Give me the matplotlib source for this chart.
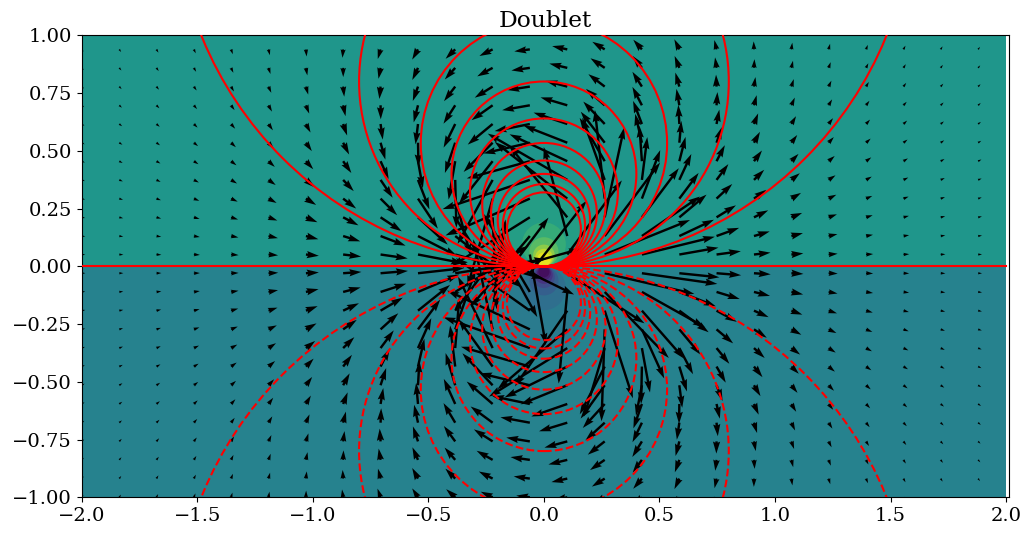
import matplotlib
matplotlib.use('Agg')
import matplotlib.pyplot as plt
from matplotlib.patches import Circle

plt.rcParams['font.family'] = 'DejaVu Serif'
plt.rcParams['font.size'] = 14

# arrow tails
x_grid = [-2.0, -1.838, -1.677, -1.515, -1.354, -1.192, -1.03, -0.869, -0.707, -0.545, -0.384, -0.222, -0.061,
          0.101, 0.263, 0.424, 0.586, 0.747, 0.909, 1.071, 1.232, 1.394, 1.556, 1.717, 1.879]
y_grid = [-1.0, -0.919, -0.838, -0.758, -0.677, -0.596, -0.515, -0.434, -0.354, -0.273, -0.192, -0.111, -0.03,
          0.051, 0.131, 0.212, 0.293, 0.374, 0.455, 0.535, 0.616, 0.697, 0.778, 0.859, 0.939]

# arrow lengths in pixels, one inner list per column of x_grid
U = [
    [1.7,1.9,2.1,2.3,2.5,2.7,2.8,3.0,3.1,3.3,3.4,3.4,3.5,3.4,3.4,3.3,3.2,3.1,3.0,2.8,2.6,2.4,2.2,2.0,1.8],
    [1.7,2.0,2.2,2.5,2.7,3.0,3.2,3.5,3.7,3.8,4.0,4.0,4.1,4.1,4.0,3.9,3.8,3.6,3.4,3.2,2.9,2.7,2.4,2.2,1.9],
    [1.7,2.0,2.4,2.7,3.0,3.4,3.7,4.0,4.3,4.5,4.7,4.9,4.9,4.9,4.8,4.7,4.5,4.2,4.0,3.6,3.3,3.0,2.6,2.3,2.0],
    [1.6,2.0,2.5,2.9,3.3,3.8,4.3,4.7,5.1,5.5,5.7,5.9,6.0,6.0,5.9,5.7,5.4,5.0,4.6,4.2,3.7,3.2,2.8,2.3,1.9],
    [1.4,1.9,2.4,3.0,3.6,4.3,4.9,5.6,6.2,6.7,7.1,7.4,7.5,7.5,7.3,7.0,6.6,6.0,5.4,4.8,4.1,3.5,2.9,2.3,1.8],
    [1.0,1.6,2.2,2.9,3.8,4.7,5.6,6.6,7.5,8.3,9.0,9.5,9.7,9.6,9.4,8.8,8.1,7.2,6.3,5.4,4.4,3.5,2.8,2.0,1.4],
    [.2,.8,1.6,2.5,3.6,4.9,6.2,7.7,9.2,10.6,11.7,12.6,12.9,12.9,12.4,11.5,10.2,8.8,7.3,5.9,4.6,3.3,2.3,1.4,.7],
    [-1.1,-.5,.4,1.4,2.8,4.5,6.5,8.8,11.2,13.6,15.8,17.5,18.2,18.0,17.1,15.3,13.0,10.6,8.2,6.0,4.0,2.4,1.1,.1,-.7],
    [-3.1,-2.6,-1.9,-.9,.6,2.7,5.6,9.1,13.2,17.7,22.2,25.7,27.4,27.1,25.0,21.2,16.6,12.1,8.1,4.8,2.2,.2,-1.2,-2.1,-2.8],
    [-5.8,-5.8,-5.6,-5.1,-3.9,-1.9,1.4,6.4,13.3,22.2,32.0,41.2,46.0,45.0,39.2,29.7,19.8,11.4,4.9,.5,-2.5,-4.3,-5.2,-5.7,-5.8],
    [-9.0,-9.8,-10.6,-11.3,-11.7,-11.4,-9.6,-5.1,4.1,20.2,44.8,73.6,90.8,88.3,66.7,38.1,15.5,1.2,-6.6,-10.3,-11.6,-11.7,-11.2,-10.4,-9.6],
    [-11.9,-13.8,-16.0,-18.7,-22.0,-25.9,-30.2,-34.2,-34.6,-19.3,12.9,55.8,88.3,81.4,44.6,4.0,-25.2,-35.1,-33.7,-29.0,-24.9,-21.1,-17.9,-15.4,-13.2],
    [-13.6,-16.1,-19.3,-23.5,-29.4,-37.6,-49.8,-68.8,-86.3,-82.7,-74.0,-46.0,56.7,16.0,-59.0,-78.0,-84.3,-87.2,-63.0,-46.3,-35.2,-27.7,-22.4,-18.4,-15.5],
    [-13.4,-15.8,-18.8,-22.8,-28.2,-35.9,-46.6,-62.7,-78.2,-69.8,-52.3,-8.6,77.2,54.6,-23.5,-57.9,-72.5,-79.5,-57.7,-43.6,-33.7,-26.7,-21.7,-17.9,-15.1],
    [-11.2,-12.8,-14.7,-16.9,-19.3,-21.9,-24.1,-24.9,-20.6,-3.2,28.2,64.1,89.6,85.3,55.4,19.4,-9.8,-22.4,-25.0,-23.9,-21.4,-18.7,-16.3,-14.2,-12.4],
    [-8.1,-8.7,-9.2,-9.6,-9.4,-8.5,-5.9,-.8,8.1,22.3,41.9,62.8,75.4,72.9,58.0,36.9,18.3,5.4,-2.5,-6.7,-8.8,-9.5,-9.5,-9.2,-8.6],
    [-5.0,-4.9,-4.5,-3.8,-2.5,-.3,2.9,7.6,13.7,21.1,29.3,36.4,40.0,39.1,34.6,27.2,19.3,12.0,6.2,2.0,-1.0,-2.9,-4.0,-4.7,-5.0],
    [-2.5,-2.0,-1.3,-.2,1.3,3.3,6.0,9.2,12.8,16.6,20.3,23.2,24.6,24.3,22.6,19.4,15.7,11.8,8.3,5.3,2.8,.9,-.5,-1.5,-2.2],
    [-.7,-.1,.7,1.8,3.1,4.7,6.5,8.5,10.7,12.8,14.6,16.0,16.7,16.5,15.7,14.2,12.3,10.2,8.0,6.0,4.2,2.7,1.5,.5,-.3],
    [.4,1.0,1.8,2.7,3.7,4.8,6.1,7.4,8.7,9.9,10.9,11.7,12.0,11.9,11.5,10.7,9.6,8.4,7.1,5.8,4.6,3.4,2.4,1.6,.9],
    [1.1,1.7,2.3,3.0,3.8,4.6,5.4,6.3,7.1,7.8,8.4,8.9,9.1,9.0,8.8,8.3,7.7,6.9,6.1,5.2,4.4,3.5,2.8,2.1,1.5],
    [1.5,2.0,2.4,3.0,3.6,4.1,4.7,5.3,5.9,6.3,6.7,7.0,7.1,7.1,6.9,6.6,6.2,5.7,5.2,4.6,4.0,3.4,2.8,2.3,1.8],
    [1.7,2.0,2.4,2.8,3.3,3.7,4.1,4.5,4.9,5.2,5.4,5.6,5.7,5.7,5.6,5.4,5.1,4.8,4.4,4.0,3.6,3.2,2.7,2.3,2.0],
    [1.7,2.0,2.3,2.6,3.0,3.3,3.6,3.9,4.1,4.3,4.5,4.6,4.7,4.7,4.6,4.5,4.3,4.1,3.8,3.5,3.2,2.9,2.6,2.2,1.9],
    [1.7,1.9,2.2,2.4,2.7,2.9,3.1,3.3,3.5,3.7,3.8,3.9,3.9,3.9,3.9,3.8,3.6,3.5,3.3,3.1,2.8,2.6,2.4,2.1,1.9],
]
V = [
    [2.2,2.2,2.1,2.0,1.9,1.7,1.6,1.4,1.2,.9,.7,.4,.1,-.2,-.5,-.7,-1.0,-1.2,-1.4,-1.6,-1.8,-1.9,-2.0,-2.1,-2.2],
    [2.7,2.6,2.6,2.5,2.3,2.2,2.0,1.7,1.5,1.2,.8,.5,.1,-.2,-.6,-.9,-1.2,-1.5,-1.8,-2.0,-2.2,-2.4,-2.5,-2.6,-2.6],
    [3.2,3.2,3.1,3.1,2.9,2.8,2.5,2.2,1.9,1.5,1.1,.6,.2,-.3,-.8,-1.2,-1.6,-2.0,-2.3,-2.6,-2.8,-3.0,-3.1,-3.2,-3.2],
    [3.9,3.9,3.9,3.9,3.7,3.6,3.3,2.9,2.5,2.0,1.5,.9,.2,-.4,-1.0,-1.6,-2.2,-2.6,-3.0,-3.4,-3.6,-3.8,-3.9,-3.9,-3.9],
    [4.7,4.8,4.9,4.9,4.8,4.7,4.4,4.0,3.5,2.8,2.1,1.2,.3,-.6,-1.4,-2.2,-3.0,-3.6,-4.1,-4.5,-4.7,-4.8,-4.9,-4.9,-4.8],
    [5.6,5.9,6.1,6.3,6.3,6.2,6.0,5.5,4.9,4.0,3.0,1.8,.5,-.8,-2.1,-3.2,-4.3,-5.1,-5.7,-6.1,-6.3,-6.3,-6.2,-6.1,-5.8],
    [6.7,7.2,7.7,8.0,8.3,8.4,8.3,7.9,7.1,6.0,4.5,2.8,.8,-1.3,-3.2,-4.9,-6.3,-7.4,-8.0,-8.4,-8.5,-8.3,-8.0,-7.5,-7.1],
    [7.8,8.6,9.5,10.3,11.1,11.6,11.9,11.7,10.9,9.5,7.4,4.5,1.3,-2.1,-5.3,-8.0,-9.9,-11.2,-11.8,-11.8,-11.5,-10.9,-10.1,-9.2,-8.4],
    [8.7,9.9,11.3,12.8,14.4,15.9,17.2,17.9,17.7,16.1,13.0,8.3,2.3,-3.9,-9.6,-14.0,-16.6,-17.8,-17.8,-16.9,-15.6,-14.0,-12.4,-10.9,-9.6],
    [8.9,10.6,12.6,15.0,17.9,21.1,24.5,27.8,29.9,29.8,25.7,17.5,5.1,-8.6,-20.0,-27.3,-30.0,-29.5,-26.9,-23.7,-20.3,-17.1,-14.4,-12.1,-10.2],
    [8.1,9.9,12.3,15.4,19.6,25.1,32.2,41.0,50.6,58.8,60.0,46.3,14.3,-24.0,-51.6,-61.0,-57.2,-47.9,-38.4,-30.3,-23.6,-18.4,-14.6,-11.6,-9.4],
    [5.6,7.1,9.1,12.0,16.2,22.4,32.0,47.5,71.4,90.0,91.2,74.3,24.5,-40.0,-81.0,-92.0,-88.7,-64.1,-42.6,-29.2,-20.6,-14.9,-11.1,-8.5,-6.6],
    [1.7,2.2,2.8,3.8,5.4,7.8,12.0,19.8,30.8,38.8,52.5,77.9,72.5,-90.6,-70.5,-48.7,-36.8,-29.2,-17.2,-10.7,-7.1,-4.9,-3.5,-2.6,-2.0],
    [-2.7,-3.5,-4.6,-6.2,-8.6,-12.5,-19.0,-30.9,-48.5,-59.9,-75.7,-91.6,-50.1,74.1,89.0,71.5,56.7,46.3,26.9,17.1,11.4,7.9,5.7,4.3,3.3],
    [-6.4,-8.0,-10.2,-13.3,-17.7,-24.0,-33.3,-47.7,-68.3,-91.9,-87.6,-66.0,-20.7,34.5,73.5,89.9,88.6,62.2,43.3,31.0,22.4,16.4,12.4,9.6,7.6],
    [-8.4,-10.2,-12.6,-15.6,-19.5,-24.4,-30.5,-37.5,-44.4,-49.1,-47.8,-35.2,-10.7,17.8,39.5,49.1,48.5,42.8,35.5,28.9,23.1,18.4,14.8,11.9,9.7],
    [-9.0,-10.5,-12.4,-14.6,-17.0,-19.8,-22.5,-24.9,-26.1,-25.2,-21.6,-14.3,-4.1,6.9,16.3,22.7,25.7,25.9,24.3,21.8,19.1,16.4,14.0,11.9,10.1],
    [-8.5,-9.6,-10.9,-12.2,-13.5,-14.7,-15.7,-16.1,-15.7,-14.0,-11.2,-7.1,-2.0,3.3,8.2,12.0,14.6,15.8,16.0,15.5,14.4,13.2,11.9,10.5,9.3],
    [-7.5,-8.3,-9.0,-9.7,-10.3,-10.7,-10.9,-10.6,-9.9,-8.4,-6.5,-4.0,-1.1,1.9,4.6,7.0,8.8,10.1,10.7,10.9,10.6,10.1,9.5,8.7,8.0],
    [-6.4,-6.8,-7.3,-7.6,-7.8,-7.8,-7.6,-7.2,-6.5,-5.4,-4.0,-2.5,-.7,1.1,2.9,4.4,5.7,6.7,7.3,7.7,7.8,7.7,7.5,7.1,6.7],
    [-5.4,-5.6,-5.8,-5.9,-5.9,-5.8,-5.5,-5.1,-4.5,-3.7,-2.7,-1.6,-.4,.8,1.9,3.0,3.9,4.6,5.2,5.6,5.8,5.9,5.9,5.7,5.6],
    [-4.4,-4.6,-4.6,-4.6,-4.5,-4.3,-4.1,-3.7,-3.2,-2.6,-1.9,-1.1,-.3,.5,1.3,2.1,2.7,3.3,3.8,4.1,4.4,4.5,4.6,4.6,4.5],
    [-3.7,-3.7,-3.7,-3.6,-3.5,-3.3,-3.1,-2.7,-2.3,-1.9,-1.4,-.8,-.2,.4,.9,1.5,2.0,2.4,2.8,3.1,3.4,3.5,3.7,3.7,3.7],
    [-3.0,-3.0,-3.0,-2.9,-2.8,-2.6,-2.4,-2.1,-1.8,-1.4,-1.0,-.6,-.2,.3,.7,1.1,1.5,1.9,2.2,2.4,2.6,2.8,2.9,3.0,3.0],
    [-2.5,-2.5,-2.4,-2.3,-2.2,-2.0,-1.9,-1.6,-1.4,-1.1,-.8,-.5,-.1,.2,.5,.9,1.2,1.4,1.7,1.9,2.1,2.3,2.4,2.5,2.5],
]

# streamlines: radius of each circle, all of them touch y=0 at the origin
line_radii = [1.6, 0.8, 0.533, 0.4, 0.32, 0.267, 0.229, 0.2, 0.178, 0.16]

# filled bands around the origin, biggest first
upper_radii = [0.19, 0.095, 0.063, 0.047, 0.038, 0.03]
upper_colors = ['#249d85', '#35ab78', '#58bb65', '#8ccb49', '#bfd82c', '#e6e31f']
lower_radii = [0.19, 0.095, 0.063, 0.047, 0.038, 0.03, 0.024]
lower_colors = ['#2a7b8e', '#2f6f8e', '#355f8d', '#3f4c8a', '#463480', '#481f70', '#440f5e']
upper_bg = '#1f968b'
lower_bg = '#26828e'

xticks = [-2.0, -1.5, -1.0, -0.5, 0.0, 0.5, 1.0, 1.5, 2.0]
yticks = [-1.0, -0.75, -0.5, -0.25, 0.0, 0.25, 0.5, 0.75, 1.0]

W, H = 1031, 535
fig = plt.figure(figsize=(W / 100, H / 100), dpi=100)
ax = fig.add_axes([81.8 / W, 1 - 497.3 / H, 927.2 / W, 462 / H])

ax.fill_between([-2, 2], 0, 1, color=upper_bg, lw=0, zorder=1)
ax.fill_between([-2, 2], -1, 0, color=lower_bg, lw=0, zorder=1)
for r, c in zip(upper_radii, upper_colors):
    ax.add_patch(Circle((0, r), r, fc=c, ec='none', zorder=1.5))
for r, c in zip(lower_radii, lower_colors):
    ax.add_patch(Circle((0, -r), r, fc=c, ec='none', zorder=1.5))

ax.quiver(x_grid, y_grid, [list(row) for row in zip(*U)], [list(row) for row in zip(*V)],
          angles='xy', scale_units='xy', scale=231, width=0.0026, zorder=2)

for r in line_radii:
    ax.add_patch(Circle((0, r), r, fill=False, ec='red', lw=1.5, zorder=3))
    ax.add_patch(Circle((0, -r), r, fill=False, ec='red', lw=1.5, ls='--', zorder=3))
ax.plot([-2, 2], [0, 0], c='red', lw=1.5, zorder=3)

ax.set_xlim(-2.0, 2.0127)
ax.set_ylim(-1, 1)
ax.set_xticks(xticks)
ax.set_yticks(yticks)
ax.set_yticklabels(['\u22121.00', '\u22120.75', '\u22120.50', '\u22120.25', '0.00', '0.25', '0.50', '0.75', '1.00'])
ax.set_title('Doublet', fontsize=16.8, pad=6)

fig.savefig('out.png', dpi=100)
